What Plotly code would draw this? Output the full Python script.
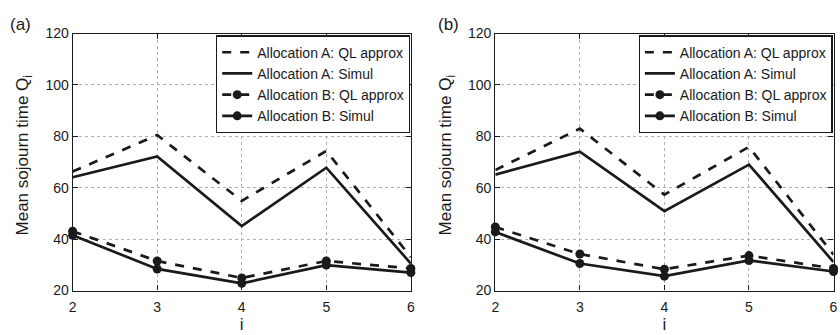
import plotly.graph_objects as go

# Station index and mean sojourn times for the two panels
stations = [2, 3, 4, 5, 6]

a_alloc_a_ql = [66.3, 80.5, 54.9, 74.3, 33.0]
a_alloc_a_sim = [64.1, 72.2, 45.1, 67.8, 30.5]
a_alloc_b_ql = [43.1, 31.5, 24.9, 31.5, 28.6]
a_alloc_b_sim = [41.5, 28.4, 22.8, 29.9, 27.0]

b_alloc_a_ql = [66.9, 83.0, 57.3, 75.9, 34.0]
b_alloc_a_sim = [65.1, 74.0, 50.9, 69.0, 31.1]
b_alloc_b_ql = [44.7, 34.2, 28.3, 33.6, 28.6]
b_alloc_b_sim = [42.8, 30.5, 25.6, 31.7, 27.4]

series_names = [
    "Allocation A: QL approx",
    "Allocation A: Simul",
    "Allocation B: QL approx",
    "Allocation B: Simul",
]
panel_labels = ["(a)", "(b)"]
y_title = "Mean sojourn time Q<sub>i</sub>"

FONT = "Liberation Sans, Arial, Helvetica, sans-serif"
INK = "#1a1a1a"

fig = go.Figure()

panels = [
    (a_alloc_a_ql, a_alloc_a_sim, a_alloc_b_ql, a_alloc_b_sim),
    (b_alloc_a_ql, b_alloc_a_sim, b_alloc_b_ql, b_alloc_b_sim),
]
styles = [
    dict(dash="dash", marker=False),
    dict(dash="solid", marker=False),
    dict(dash="dash", marker=True),
    dict(dash="solid", marker=True),
]

for p, data in enumerate(panels):
    xa = "x" if p == 0 else "x2"
    ya = "y" if p == 0 else "y2"
    lg = "legend" if p == 0 else "legend2"
    for name, vals, st in zip(series_names, data, styles):
        fig.add_trace(go.Scatter(
            x=stations, y=vals, name=name,
            mode="lines+markers" if st["marker"] else "lines",
            line=dict(color=INK, width=2.7, dash=st["dash"]),
            marker=dict(color=INK, size=9, symbol="circle"),
            xaxis=xa, yaxis=ya, legend=lg, cliponaxis=False,
        ))

axis_common = dict(
    showline=True, linecolor=INK, linewidth=1.2, mirror="ticks",
    ticks="inside", ticklen=5, tickcolor=INK,
    showgrid=True, gridcolor="#b0b0b0", griddash="dot", gridwidth=1,
    zeroline=False,
    tickfont=dict(family=FONT, size=14, color=INK),
)

xdoms = [(0.0825, 0.489), (0.5905, 0.997)]
ydom = (0.1143, 0.920)

layout = dict(
    width=840, height=335,
    margin=dict(l=0, r=0, t=0, b=0),
    paper_bgcolor="white", plot_bgcolor="white",
    showlegend=True,
    font=dict(family=FONT, color=INK),
)

for p in range(2):
    sx = "" if p == 0 else "2"
    layout["xaxis" + sx] = dict(
        axis_common, domain=list(xdoms[p]), range=[2, 6],
        tickvals=stations, anchor="y" + sx, ticklabelstandoff=4,
        title=dict(text="i", font=dict(family=FONT, size=17, color=INK), standoff=2),
    )
    layout["yaxis" + sx] = dict(
        axis_common, domain=list(ydom), range=[20, 120],
        tickvals=[20, 40, 60, 80, 100, 120], anchor="x" + sx,
    )
    leg = dict(
        x=xdoms[p][1] - 0.001, y=ydom[1] - 0.006, xanchor="right", yanchor="top",
        bgcolor="white", bordercolor=INK, borderwidth=1.2,
        font=dict(family=FONT, size=14, color=INK),
        tracegroupgap=0, itemwidth=30,
    )
    layout["legend" if p == 0 else "legend2"] = leg

fig.update_layout(**layout)

for p, lab in enumerate(panel_labels):
    fig.add_annotation(
        text=lab, xref="paper", yref="paper",
        x=[0.005, 0.519][p], y=0.985, xanchor="left", yanchor="top",
        showarrow=False, font=dict(family=FONT, size=17, color=INK),
    )
    # vertical axis title
    fig.add_annotation(
        text=y_title, xref="paper", yref="paper", textangle=-90,
        x=[20 / 840, 447 / 840][p], y=(ydom[0] + ydom[1]) / 2 + 0.02,
        xanchor="center", yanchor="middle",
        showarrow=False, font=dict(family=FONT, size=17, color=INK),
    )

fig.write_html("out.html")
